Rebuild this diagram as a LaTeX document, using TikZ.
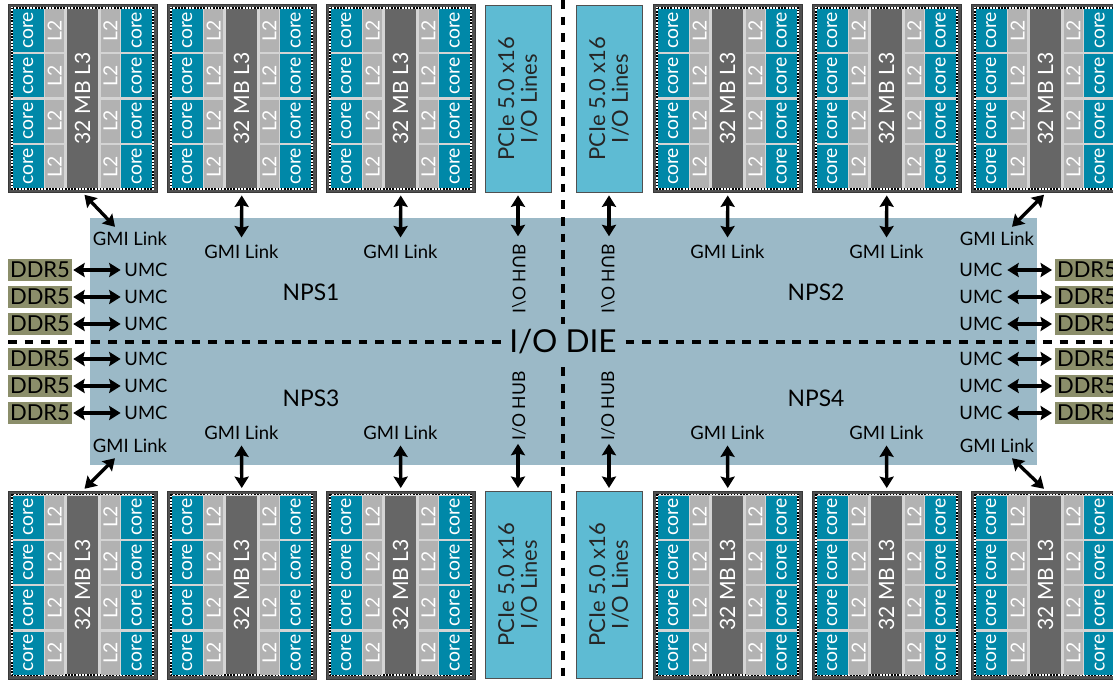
\documentclass[tikz,border=0pt]{standalone}
\usepackage{fontspec}
\setmainfont{Lato}
\usepackage{graphicx}
\usetikzlibrary{arrows.meta,calc}

\definecolor{coreteal}{RGB}{0,136,168}
\definecolor{ltwogray}{RGB}{178,178,178}
\definecolor{lthreegray}{RGB}{102,102,102}
\definecolor{gapgray}{RGB}{212,212,212}
\definecolor{framegray}{RGB}{80,80,80}
\definecolor{pciecyan}{RGB}{94,187,211}
\definecolor{diesteel}{RGB}{155,185,199}
\definecolor{ddrolive}{RGB}{139,142,106}

\tikzset{
  chipframe/.style={fill=framegray,draw=framegray!70!black,line width=0.3pt,minimum width=2.98cm,minimum height=3.77cm,inner sep=0pt},
  corecell/.style={fill=coreteal,text=white,rotate=90,minimum width=0.86cm,minimum height=0.61cm,inner sep=0pt,font=\fontsize{11}{11}\selectfont},
  ltwocell/.style={fill=ltwogray,text=white,rotate=90,minimum width=0.86cm,minimum height=0.39cm,inner sep=0pt,font=\fontsize{11}{11}\selectfont},
  lthreecell/.style={fill=lthreegray,text=white,rotate=90,minimum width=3.58cm,minimum height=0.632cm,inner sep=0pt,font=\fontsize{12}{12}\selectfont},
  pciebox/.style={fill=pciecyan,draw=framegray,line width=0.5pt,rotate=90,minimum width=3.74cm,minimum height=1.32cm,align=center,font=\fontsize{12.5}{13}\selectfont,text=black!85},
  ddrbox/.style={fill=ddrolive,minimum width=1.28cm,minimum height=0.45cm,inner sep=0pt,font=\fontsize{12.5}{12.5}\selectfont},
  dielabel/.style={inner sep=0pt,font=\fontsize{10.5}{10.5}\selectfont},
  hublabel/.style={rotate=90,inner sep=0pt,font=\fontsize{10}{10}\selectfont},
  npslabel/.style={inner sep=0pt,font=\fontsize{13}{13}\selectfont},
  divider/.style={line width=2.3pt,dash pattern=on 5pt off 4.5pt},
  link/.style={{Stealth[length=6.5pt,width=8pt,inset=1pt]}-{Stealth[length=6.5pt,width=8pt,inset=1pt]},line width=1.9pt},
}

% one CCD: #1 name, #2/#3 top left corner
\newcommand{\ccdchip}[3]{%
  \node[chipframe,anchor=north west] (#1) at (#2,#3) {};
  \begin{scope}[shift={(#2,#3)}]
    \fill[gapgray] (4.6,4.6) rectangle (144.4,183.9);
    \draw[white,line width=0.9pt] (3.8,3.8) rectangle (145.2,184.7);
    \draw[black,line width=0.9pt,dash pattern=on 0.9pt off 0.9pt] (3.8,3.8) rectangle (145.2,184.7);
    \node[lthreecell] (#1-l3) at (74.5,94.5) {32 MB L3};
    \foreach \r in {0,...,3} {
      \node[corecell] (#1-cl\r) at (20.3,{26.5+45.33*\r}) {core};
      \node[ltwocell] (#1-ll\r) at (46.7,{26.5+45.33*\r}) {L2};
      \node[ltwocell] (#1-lr\r) at (102.3,{26.5+45.33*\r}) {L2};
      \node[corecell] (#1-cr\r) at (128.7,{26.5+45.33*\r}) {core};
    }
  \end{scope}
}

\begin{document}
\begin{tikzpicture}[x=0.02cm,y=-0.02cm]
\useasboundingbox (0,0) rectangle (1113,681);
\clip (0,0) rectangle (1113,681);

\node[fill=diesteel,minimum width=18.94cm,minimum height=4.94cm,inner sep=0pt] (iodie) at (563.5,341.5) {};

% quadrant borders
\draw[divider] (8,342) -- (1113,342);
\draw[divider] (563,0) -- (563,681);
\node[fill=diesteel,inner xsep=2pt,inner ysep=3pt,font=\fontsize{18}{18}\selectfont] (iodiename) at (563,342) {I/O DIE};

\foreach \n/\x in {1/8,2/167,3/326,4/653,5/812,6/971} {
  \ccdchip{t\n}{\x}{4}
  \ccdchip{b\n}{\x}{490.5}
}

\node[pciebox] (pcieT1) at (518,98.5) {PCIe 5.0 x16\\I/O Lines};
\node[pciebox] (pcieT2) at (609,98.5) {PCIe 5.0 x16\\I/O Lines};
\node[pciebox] (pcieB1) at (518,584.5) {PCIe 5.0 x16\\I/O Lines};
\node[pciebox] (pcieB2) at (609,584.5) {PCIe 5.0 x16\\I/O Lines};

\node[hublabel] (hubT1) at (519,279) {\scalebox{1}[-1]{I/O HUB}};
\node[hublabel] (hubT2) at (608,279) {\scalebox{1}[-1]{I/O HUB}};
\node[hublabel] (hubB1) at (519,406) {I/O HUB};
\node[hublabel] (hubB2) at (608,406) {I/O HUB};
\draw[link,shorten <=1.7pt,shorten >=4.5pt] (pcieT1.west) -- (pcieT1.west |- hubT1.east);
\draw[link,shorten <=1.7pt,shorten >=4.5pt] (pcieT2.west) -- (pcieT2.west |- hubT2.east);
\draw[link,shorten <=1.7pt,shorten >=1.5pt] (pcieB1.east |- hubB1.west) -- (pcieB1.east);
\draw[link,shorten <=1.7pt,shorten >=1.5pt] (pcieB2.east |- hubB2.west) -- (pcieB2.east);

\node[npslabel] (nps1) at (311,292) {NPS1};
\node[npslabel] (nps2) at (816,292) {NPS2};
\node[npslabel] (nps3) at (311,398) {NPS3};
\node[npslabel] (nps4) at (816,398) {NPS4};

\node[dielabel] (gmiT1) at (130,239) {GMI Link};
\node[dielabel] (gmiT2) at (241.5,252) {GMI Link};
\node[dielabel] (gmiT3) at (400.5,252) {GMI Link};
\node[dielabel] (gmiT4) at (727.5,252) {GMI Link};
\node[dielabel] (gmiT5) at (886.5,252) {GMI Link};
\node[dielabel] (gmiT6) at (997,239) {GMI Link};
\node[dielabel] (gmiB1) at (130,446) {GMI Link};
\node[dielabel] (gmiB2) at (241.5,433) {GMI Link};
\node[dielabel] (gmiB3) at (400.5,433) {GMI Link};
\node[dielabel] (gmiB4) at (727.5,433) {GMI Link};
\node[dielabel] (gmiB5) at (886.5,433) {GMI Link};
\node[dielabel] (gmiB6) at (997,446) {GMI Link};

\foreach \n in {2,...,5} {
  \draw[link,shorten <=1.4pt,shorten >=4.2pt] (t\n.south) -- (gmiT\n.north);
  \draw[link,shorten <=3pt,shorten >=1.4pt] (gmiB\n.south) -- (b\n.north);
}
\draw[link,shorten <=1.4pt] (t1.south) -- ($(gmiT1.north)+(-15,-5)$);
\draw[link,shorten <=1.4pt] (t6.south) -- ($(gmiT6.north)+(15,-5)$);
\draw[link,shorten >=1.4pt] ($(gmiB1.south)+(-15,5)$) -- (b1.north);
\draw[link,shorten >=1.4pt] ($(gmiB6.south)+(15,5)$) -- (b6.north);

\foreach \k/\y in {1/270,2/297,3/324,4/359,5/386,6/413} {
  \node[ddrbox] (ddrL\k) at (40,\y) {DDR5};
  \node[dielabel] (umcL\k) at (146,\y) {UMC};
  \node[ddrbox] (ddrR\k) at (1087,\y) {DDR5};
  \node[dielabel] (umcR\k) at (981,\y) {UMC};
  \draw[link,shorten <=0.5pt,shorten >=2pt] (ddrL\k) -- (umcL\k);
  \draw[link,shorten <=2.5pt,shorten >=1.5pt] (umcR\k) -- (ddrR\k);
}
\end{tikzpicture}
\end{document}
